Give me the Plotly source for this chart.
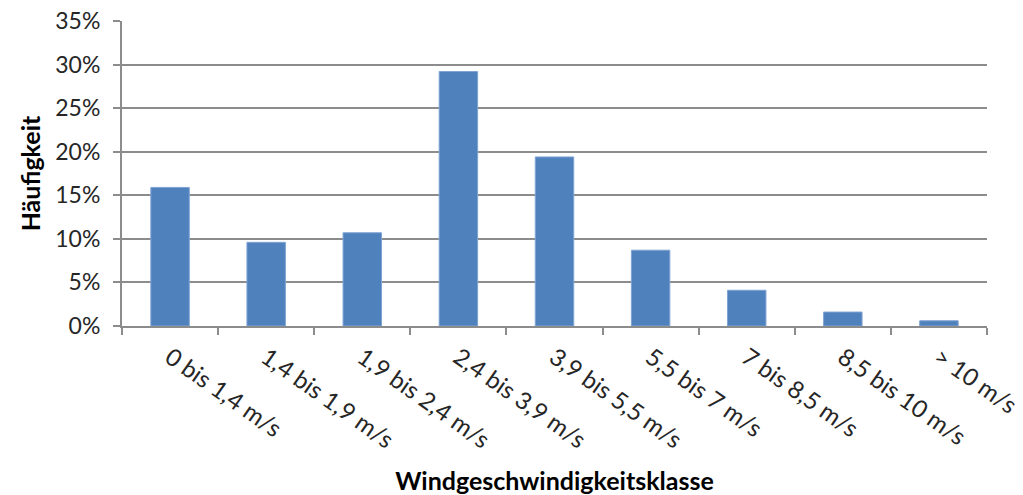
import plotly.graph_objects as go

# Windgeschwindigkeitsklassen und relative Häufigkeit (in Prozent)
klassen = [
    "0 bis 1,4 m/s",
    "1,4 bis 1,9 m/s",
    "1,9 bis 2,4 m/s",
    "2,4 bis 3,9 m/s",
    "3,9 bis 5,5 m/s",
    "5,5 bis 7 m/s",
    "7 bis 8,5 m/s",
    "8,5 bis 10 m/s",
    "> 10 m/s",
]
haeufigkeit = [15.9, 9.6, 10.7, 29.2, 19.4, 8.7, 4.1, 1.6, 0.6]

y_ticks = [0, 5, 10, 15, 20, 25, 30, 35]
y_ticktext = [f"{v}%" for v in y_ticks]

font_family = "Lato, Open Sans, Noto Sans, sans-serif"
grid_color = "#8C8C8C"

fig = go.Figure(
    go.Bar(
        x=klassen,
        y=haeufigkeit,
        marker=dict(color="#4F81BD", line=dict(color="#7FA3D3", width=1)),
        hoverinfo="skip",
    )
)

fig.update_layout(
    width=1023,
    height=495,
    margin=dict(l=122, r=36, t=21, b=169),
    paper_bgcolor="white",
    plot_bgcolor="white",
    bargap=0.6,
    showlegend=False,
    font=dict(family=font_family, color="#262626"),
)

fig.update_xaxes(
    type="category",
    automargin=False,
    tickangle=35,
    tickfont=dict(size=24, color="#262626"),
    ticklabelstandoff=6,
    showline=True,
    linecolor=grid_color,
    linewidth=2,
    ticks="outside",
    tickson="boundaries",
    ticklen=7,
    tickwidth=2,
    tickcolor=grid_color,
    showgrid=False,
    title=dict(
        text="<b>Windgeschwindigkeitsklasse</b>",
        font=dict(size=25, color="#000000"),
        standoff=22,
    ),
)

fig.update_yaxes(
    range=[0, 35],
    automargin=False,
    tickvals=y_ticks,
    ticktext=y_ticktext,
    tickfont=dict(size=23, color="#262626"),
    ticklabelstandoff=8,
    showline=True,
    linecolor=grid_color,
    linewidth=2,
    ticks="outside",
    ticklen=7,
    tickwidth=2,
    tickcolor=grid_color,
    showgrid=True,
    gridcolor=grid_color,
    gridwidth=2,
    zeroline=False,
    title=dict(
        text="<b>Häufigkeit</b>",
        font=dict(size=25, color="#000000"),
        standoff=8,
    ),
)

fig.write_html("out.html")
